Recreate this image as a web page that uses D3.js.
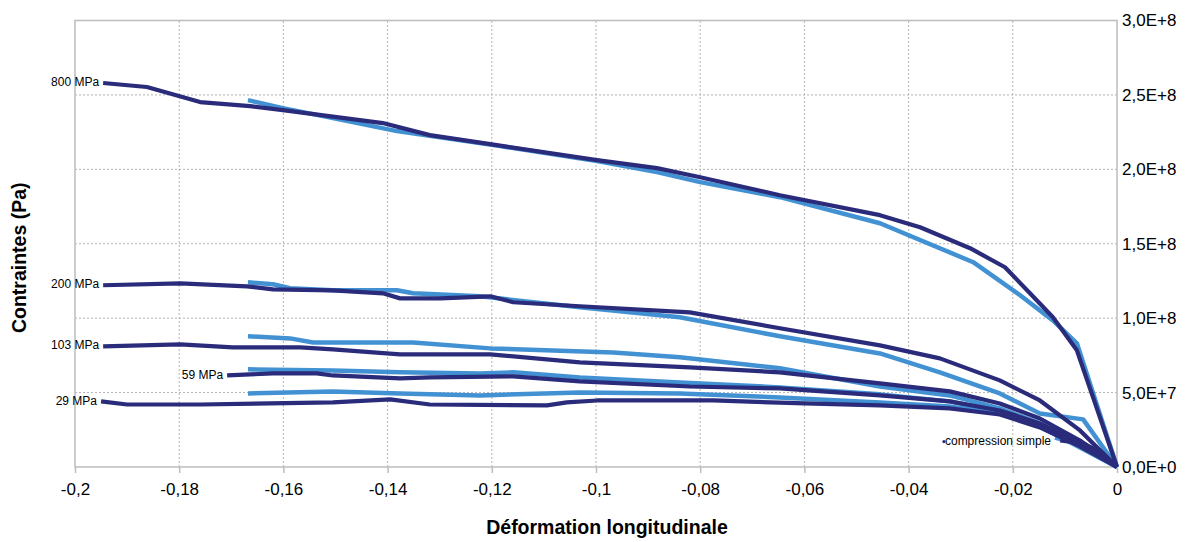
<!DOCTYPE html>
<html><head><meta charset="utf-8">
<script src="https://cdn.jsdelivr.net/npm/d3@7"></script>
<style>
body{margin:0;background:#fff}
svg{display:block}
text{font-family:"Liberation Sans",Arial,Helvetica,sans-serif;fill:#000}
</style>
</head><body>
<svg id="c" width="1188" height="542"></svg>
<script>
// ---- axes ----
const xTicks = [-0.2,-0.18,-0.16,-0.14,-0.12,-0.1,-0.08,-0.06,-0.04,-0.02,0];
const xTickLabels = ["-0,2","-0,18","-0,16","-0,14","-0,12","-0,1","-0,08","-0,06","-0,04","-0,02","0"];
const yTicks = [0,5e7,1e8,1.5e8,2e8,2.5e8,3e8];
const yTickLabels = ["0,0E+0","5,0E+7","1,0E+8","1,5E+8","2,0E+8","2,5E+8","3,0E+8"];
const xTitle = "Déformation longitudinale";
const yTitle = "Contraintes (Pa)";

// ---- data: [strain, stress in MPa] ----
// dark series (measured)
const dark800 = [[-0.1946,258.0],[-0.1862,255.3],[-0.1760,245.2],[-0.1664,242.5],[-0.1601,239.8],[-0.1409,231.1],[-0.1319,223.0],[-0.1203,216.9],[-0.0998,206.2],[-0.0883,200.8],[-0.0800,194.7],[-0.0647,182.6],[-0.0455,169.2],[-0.0378,161.1],[-0.0282,147.0],[-0.0215,134.2],[-0.0167,116.7],[-0.0123,100.6],[-0.0077,78.4],[0,0]];
const dark200 = [[-0.1946,122.1],[-0.1798,123.4],[-0.1670,121.4],[-0.1620,119.4],[-0.1505,118.7],[-0.1409,116.7],[-0.1376,113.3],[-0.1299,113.3],[-0.1203,114.7],[-0.1159,110.7],[-0.1031,108.0],[-0.0820,103.9],[-0.0647,93.2],[-0.0455,81.7],[-0.0340,73.0],[-0.0225,58.2],[-0.0148,44.7],[-0.0071,24.6],[0,0]];
const dark103 = [[-0.1946,81.1],[-0.1798,82.4],[-0.1697,80.4],[-0.1568,80.4],[-0.1505,79.0],[-0.1376,75.7],[-0.1203,75.7],[-0.1031,70.3],[-0.0820,66.9],[-0.0647,63.6],[-0.0455,56.2],[-0.0321,50.8],[-0.0225,42.7],[-0.0148,32.6],[-0.0071,17.8],[0,0]];
const dark59 = [[-0.1708,61.5],[-0.1620,62.9],[-0.1536,62.9],[-0.1505,61.5],[-0.1376,59.5],[-0.1319,60.2],[-0.1159,60.9],[-0.1031,57.5],[-0.0820,54.1],[-0.0647,52.8],[-0.0455,48.1],[-0.0321,44.1],[-0.0225,38.0],[-0.0148,29.3],[-0.0071,15.8],[0,0]];
const dark29 = [[-0.1950,44.1],[-0.1900,42.0],[-0.1760,42.0],[-0.1505,43.4],[-0.1395,45.4],[-0.1319,42.0],[-0.1094,41.4],[-0.1056,43.4],[-0.0998,44.7],[-0.0775,44.7],[-0.0599,42.7],[-0.0455,41.4],[-0.0321,39.4],[-0.0225,35.3],[-0.0148,26.6],[-0.0071,13.8],[0,0]];
const darkComp = [[-0.0109,17.8],[-0.0065,15.8],[-0.0027,9.1],[0,0]];
// light series (model)
const light800 = [[-0.1668,246.5],[-0.1601,241.1],[-0.1505,234.4],[-0.1382,225.7],[-0.1184,215.6],[-0.0998,205.5],[-0.0883,198.1],[-0.0800,191.4],[-0.0647,181.3],[-0.0455,163.8],[-0.0276,137.6],[-0.0186,115.4],[-0.0123,98.5],[-0.0077,83.1],[0,0]];
const light200 = [[-0.1668,124.1],[-0.1620,122.8],[-0.1587,120.1],[-0.1505,118.7],[-0.1382,118.7],[-0.1351,116.7],[-0.1223,114.7],[-0.1031,107.3],[-0.0839,100.6],[-0.0647,87.8],[-0.0455,76.3],[-0.0340,63.6],[-0.0225,49.4],[-0.0148,36.0],[-0.0065,32.0],[0,0]];
const light103 = [[-0.1668,87.8],[-0.1587,86.4],[-0.1543,83.7],[-0.1351,83.7],[-0.1203,79.7],[-0.0967,77.0],[-0.0839,73.7],[-0.0647,66.3],[-0.0455,54.1],[-0.0321,48.1],[-0.0225,39.4],[-0.0148,29.3],[-0.0071,15.8],[0,0]];
const light59 = [[-0.1668,65.6],[-0.1505,64.9],[-0.1376,63.6],[-0.1223,62.9],[-0.1159,63.6],[-0.1031,60.2],[-0.0839,56.8],[-0.0647,53.5],[-0.0455,48.8],[-0.0321,44.1],[-0.0225,37.3],[-0.0148,27.2],[-0.0071,14.5],[0,0]];
const light29 = [[-0.1668,49.4],[-0.1505,50.8],[-0.1376,49.4],[-0.1223,48.1],[-0.1031,50.1],[-0.0839,49.4],[-0.0647,46.7],[-0.0455,43.4],[-0.0321,40.7],[-0.0225,36.0],[-0.0148,27.2],[-0.0071,13.1],[0,0]];
const lightComp = [[-0.0119,19.8],[-0.0105,18.5],[-0.0065,15.3],[-0.0027,8.5],[0,0]];

const seriesLabels = ["800 MPa","200 MPa","103 MPa","59 MPa","29 MPa","compression simple"];
const darkSeries = [dark800,dark200,dark103,dark59,dark29,darkComp];
const lightSeries = [light800,light200,light103,light59,light29,lightComp];

const DARK = "#2b2b7b", LIGHT = "#4292d3", GRID = "#b4b4b4", FRAME = "#bdbdbd";

const svg = d3.select("#c");
const x = d3.scaleLinear().domain([-0.2,0]).range([75,1117]);
const y = d3.scaleLinear().domain([0,3e8]).range([467,20.5]);

// gridlines
const g = svg.append("g");
g.selectAll("line.hg").data(yTicks.slice(1,-1)).join("line")
  .attr("x1",x(-0.2)).attr("x2",x(0)).attr("y1",d=>y(d)).attr("y2",d=>y(d))
  .attr("stroke",GRID).attr("stroke-width",1).attr("stroke-dasharray","2,2");
g.selectAll("line.vg").data(xTicks.slice(1,-1)).join("line")
  .attr("y1",y(0)).attr("y2",y(3e8)).attr("x1",d=>x(d)).attr("x2",d=>x(d))
  .attr("stroke",GRID).attr("stroke-width",1).attr("stroke-dasharray","2,2");

// frame
svg.append("rect").attr("x",x(-0.2)).attr("y",y(3e8)).attr("width",x(0)-x(-0.2)).attr("height",y(0)-y(3e8))
  .attr("fill","none").attr("stroke",FRAME).attr("stroke-width",1.5);

// bottom axis
const xAxis = d3.axisBottom(x).tickValues(xTicks).tickFormat((d,i)=>xTickLabels[i]).tickSize(6).tickPadding(10);
const xa = svg.append("g").attr("transform",`translate(0,${y(0)})`).call(xAxis);
xa.select(".domain").remove();
xa.selectAll(".tick line").attr("stroke",FRAME).attr("stroke-width",1.5);
xa.selectAll(".tick text").attr("font-size",17).attr("font-family","Liberation Sans, Arial, sans-serif").attr("fill","#000");

// right axis
const yAxis = d3.axisRight(y).tickValues(yTicks).tickFormat((d,i)=>yTickLabels[i]).tickSize(0).tickPadding(5);
const ya = svg.append("g").attr("transform",`translate(${x(0)},0)`).call(yAxis);
ya.select(".domain").remove();
ya.selectAll(".tick text").attr("font-size",17).attr("font-family","Liberation Sans, Arial, sans-serif").attr("fill","#000");

// lines
const line = d3.line().x(d=>x(d[0])).y(d=>y(d[1]*1e6)).curve(d3.curveLinear);
const lg = svg.append("g").attr("fill","none").attr("stroke-linejoin","round").attr("stroke-linecap","butt");
lg.selectAll("path.l").data(lightSeries).join("path")
  .attr("d",line).attr("stroke",LIGHT).attr("stroke-width",4.5);
lg.selectAll("path.d").data(darkSeries).join("path")
  .attr("d",line).attr("stroke",DARK).attr("stroke-width",4.2);

// series labels
const lab = svg.append("g");
darkSeries.forEach((s,i)=>{
  const first = (i===5) ? lightSeries[5][0] : s[0];
  const t = lab.append("text")
    .attr("x",x(first[0])-4).attr("y",y(first[1]*1e6)+ (i===5?4:0))
    .attr("text-anchor","end").attr("dominant-baseline","middle")
    .attr("font-size",12).text(seriesLabels[i]);
  if(i===5){
    const bb = t.node().getBBox();
    lab.append("circle").attr("cx",bb.x-1).attr("cy",y(first[1]*1e6)+4).attr("r",1.6).attr("fill",DARK);
  }
});

// titles
svg.append("text").attr("x",607).attr("y",534).attr("text-anchor","middle")
  .attr("font-size",19.5).attr("font-weight","bold").text(xTitle);
svg.append("text").attr("transform",`translate(26,${(y(0)+y(3e8))/2 + 14}) rotate(-90)`).attr("text-anchor","middle")
  .attr("font-size",19.5).attr("font-weight","bold").text(yTitle);
</script>
</body></html>
